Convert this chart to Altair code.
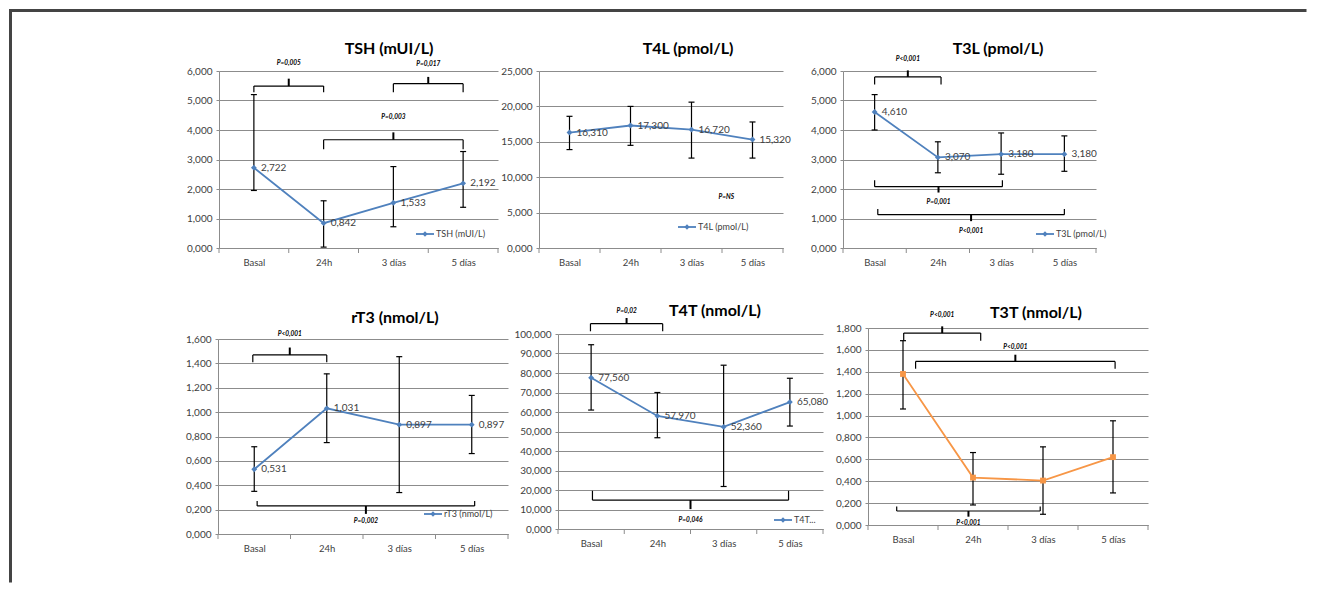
import altair as alt
import pandas as pd

FONT = "Lato"
GRID = "#8c8c8c"
TXT = "#404040"
BLUE = "#4F81BD"
ORANGE = "#F79646"
FRAME = "#444444"

CATS = ["Basal", "24h", "3 días", "5 días"]
POS = [0, 1, 2, 3]
BOUNDS = [-0.5, 0.5, 1.5, 2.5, 3.5]

# ---- series (value, lower and upper error limits) ----
TSH_VAL = [2.722, 0.842, 1.533, 2.192]
TSH_LO = [1.95, 0.03, 0.72, 1.38]
TSH_HI = [5.20, 1.60, 2.76, 3.27]

T4L_VAL = [16.310, 17.300, 16.720, 15.320]
T4L_LO = [13.9, 14.5, 12.7, 12.7]
T4L_HI = [18.6, 20.0, 20.6, 17.8]

T3L_VAL = [4.610, 3.070, 3.180, 3.180]
T3L_LO = [4.0, 2.55, 2.5, 2.6]
T3L_HI = [5.2, 3.6, 3.9, 3.8]

RT3_VAL = [0.531, 1.031, 0.897, 0.897]
RT3_LO = [0.35, 0.75, 0.34, 0.66]
RT3_HI = [0.716, 1.314, 1.455, 1.137]

T4T_VAL = [77.560, 57.970, 52.360, 65.080]
T4T_LO = [61.0, 46.8, 21.8, 52.8]
T4T_HI = [94.5, 70.0, 84.0, 77.3]

T3T_VAL = [1.380, 0.433, 0.406, 0.620]
T3T_LO = [1.06, 0.183, 0.098, 0.293]
T3T_HI = [1.684, 0.662, 0.714, 0.952]

# ---- significance brackets ----
TSH_BR = dict(x1=[0, 2, 1], x2=[1, 3, 3], y=[5.49, 5.57, 3.67], yend=[5.28, 5.28, 3.35],
              ytick=[5.74, 5.80, 3.92], text=["P=0,005", "P=0,017", "P=0,003"], ytext=[6.27, 6.25, 4.43])
T4L_BR = dict(x1=[], x2=[], y=[], yend=[], ytick=[], text=[], ytext=[])
T4L_NOTE = dict(x=[2.57], y=[7.2], text=["P=NS"])
T3L_BR = dict(x1=[0, 0, 0.05], x2=[1.05, 2.02, 3.0], y=[5.8, 2.08, 1.13], yend=[5.54, 2.3, 1.32],
              ytick=[6.02, 1.88, 0.91], text=["P<0,001", "P=0,001", "P<0,001"], ytext=[6.4, 1.55, 0.58])
RT3_BR = dict(x1=[-0.02, 0.04], x2=[1.0, 3.04], y=[1.469, 0.23], yend=[1.41, 0.27],
              ytick=[1.53, 0.165], text=["P<0,001", "P=0,002"], ytext=[1.645, 0.11])
T4T_BR = dict(x1=[-0.01, 0.02], x2=[1.08, 2.98], y=[105.3, 14.8], yend=[101.4, 19.6],
              ytick=[108.2, 10.2], text=["P=0,02", "P=0,046"], ytext=[112, 4.6])
T3T_BR = dict(x1=[0.01, 0.18, -0.09], x2=[1.11, 3.03, 1.96], y=[1.754, 1.495, 0.128],
              yend=[1.684, 1.428, 0.168], ytick=[1.815, 1.556, 0.076],
              text=["P<0,001", "P<0,001", "P<0,001"], ytext=[1.92, 1.623, 0.02])


def fmt(v):
    return f"{v:.3f}".replace(".", ",")


def spacer(w, h):
    return alt.Chart(pd.DataFrame({"s": [0]})).mark_point(opacity=0).encode(
        x=alt.value(0), y=alt.value(0)).properties(width=w, height=h)


def panel(title, t_x, t_y, vals, lo, hi, ymax, ystep, w, h, top, color, shape,
          leg_text, leg_x, leg_y, br, note=None, show_labels=True, frame=None):
    df = pd.DataFrame({"pos": POS, "cat": CATS, "val": vals, "lo": lo, "hi": hi,
                       "lab": [fmt(v) for v in vals]})
    n = int(round(ymax / ystep))
    yvals = [round(i * ystep, 6) for i in range(n + 1)]
    label_expr = "[" + ",".join(f"'{c}'" for c in CATS) + "][datum.value]"
    xaxis = alt.Axis(values=POS, labelExpr=label_expr, grid=False, ticks=False,
                     domainColor=GRID, labelPadding=9, title=None, labelFontSize=9.5,
                     labelOverlap=False)
    yaxis = alt.Axis(values=yvals, labelExpr="replace(format(datum.value, '.3f'), '.', ',')",
                     grid=True, gridColor=GRID, domainColor=GRID, tickColor=GRID,
                     tickSize=3, labelPadding=4, title=None, labelOverlap=False)
    xs = alt.Scale(domain=[-0.5, 3.5], nice=False, zero=False)
    ys = alt.Scale(domain=[0, ymax], nice=False, range=[h, top])

    def X(f):
        return alt.X(f, scale=xs, axis=xaxis)

    def Y(f):
        return alt.Y(f, scale=ys, axis=yaxis)

    base = alt.Chart(df)
    line = base.mark_line(color=color, strokeWidth=1.8).encode(x=X("pos:Q"), y=Y("val:Q"))
    err = base.mark_rule(color="black", strokeWidth=1.2).encode(
        x=X("pos:Q"), y=Y("lo:Q"), y2="hi:Q")
    cap_lo = base.mark_tick(orient="horizontal", color="black", size=6, thickness=1.2,
                            opacity=1).encode(x=X("pos:Q"), y=Y("lo:Q"))
    cap_hi = base.mark_tick(orient="horizontal", color="black", size=6, thickness=1.2,
                            opacity=1).encode(x=X("pos:Q"), y=Y("hi:Q"))
    pts = base.mark_point(shape=shape, filled=True, size=34, color=color, opacity=1).encode(
        x=X("pos:Q"), y=Y("val:Q"))
    layers = [line, err, cap_lo, cap_hi, pts]
    if show_labels:
        layers.append(base.mark_text(align="left", baseline="middle", dx=7, font=FONT,
                                     fontSize=10, color=TXT).encode(
            x=X("pos:Q"), y=Y("val:Q"), text="lab:N"))
    # category boundary tick marks on the x axis
    layers.append(alt.Chart(pd.DataFrame({"b": BOUNDS})).mark_rule(color=GRID).encode(
        x=X("b:Q"), y=alt.value(h), y2=alt.value(h + 5)))

    # brackets
    if br["x1"]:
        segs = []
        ticks = []
        for x1, x2, y, ye, yt in zip(br["x1"], br["x2"], br["y"], br["yend"], br["ytick"]):
            segs.append((x1, y, x2, y))
            segs.append((x1, y, x1, ye))
            segs.append((x2, y, x2, ye))
            m = (x1 + x2) / 2
            ticks.append((m, y, m, yt))
        sdf = pd.DataFrame(segs, columns=["xa", "ya", "xb", "yb"])
        tdf = pd.DataFrame(ticks, columns=["xa", "ya", "xb", "yb"])
        layers.append(alt.Chart(sdf).mark_rule(color="black", strokeWidth=1.2).encode(
            x=X("xa:Q"), y=Y("ya:Q"), x2="xb:Q", y2="yb:Q"))
        layers.append(alt.Chart(tdf).mark_rule(color="black", strokeWidth=2).encode(
            x=X("xa:Q"), y=Y("ya:Q"), x2="xb:Q", y2="yb:Q"))
        ldf = pd.DataFrame({"x": [(a + b) / 2 for a, b in zip(br["x1"], br["x2"])],
                            "y": br["ytext"], "t": br["text"]})
        layers.append(alt.Chart(ldf).mark_text(font=FONT, fontSize=6.5, fontWeight="bold",
                                               fontStyle="italic", color="black",
                                               baseline="middle").encode(
            x=X("x:Q"), y=Y("y:Q"), text="t:N"))
    if note:
        ndf = pd.DataFrame(note)
        layers.append(alt.Chart(ndf).mark_text(font=FONT, fontSize=6.5, fontWeight="bold",
                                               fontStyle="italic", color="black",
                                               baseline="middle").encode(
            x=X("x:Q"), y=Y("y:Q"), text="text:N"))

    # panel title
    layers.append(alt.Chart(pd.DataFrame({"t": [title]})).mark_text(
        font=FONT, fontSize=16, fontWeight="bold", align="center", baseline="alphabetic",
        color="black").encode(x=alt.value(t_x), y=alt.value(t_y), text="t:N"))

    # in-plot legend
    if leg_text:
        leg = pd.DataFrame({"t": [leg_text]})
        layers.append(alt.Chart(leg).mark_rule(color=color, strokeWidth=1.8).encode(
            x=alt.value(leg_x), x2=alt.value(leg_x + 18), y=alt.value(leg_y)))
        layers.append(alt.Chart(leg).mark_point(shape=shape, filled=True, size=28, color=color,
                                                opacity=1).encode(
            x=alt.value(leg_x + 9), y=alt.value(leg_y)))
        layers.append(alt.Chart(leg).mark_text(font=FONT, fontSize=9, color=TXT, align="left",
                                               baseline="middle").encode(
            x=alt.value(leg_x + 20), y=alt.value(leg_y), text="t:N"))

    # outer picture frame (decoration)
    if frame:
        fdf = pd.DataFrame({"f": [0]})
        fx, fy0, fy1, fxr = frame
        layers.append(alt.Chart(fdf).mark_rule(color=FRAME, strokeWidth=3,
                                               strokeCap="square").encode(
            x=alt.value(fx), x2=alt.value(fxr), y=alt.value(fy0)))
        layers.append(alt.Chart(fdf).mark_rule(color=FRAME, strokeWidth=3,
                                               strokeCap="square").encode(
            x=alt.value(fx), y=alt.value(fy0), y2=alt.value(fy1)))

    return alt.layer(*layers).properties(width=w, height=h)


# row 1 plot tops at page y=70; row 2 plot groups at page y=327
tsh = panel("TSH (mUI/L)", 170, -17, TSH_VAL, TSH_LO, TSH_HI, 6, 1, 279, 177, 0, BLUE, "diamond",
            "TSH (mUI/L)", 197, 163, TSH_BR, frame=(-208.5, -60.5, 510, 1086))
t4l = panel("T4L (pmol/L)", 149, -17, T4L_VAL, T4L_LO, T4L_HI, 25, 5, 244, 177, 0, BLUE, "diamond",
            "T4L (pmol/L)", 139, 156, T4L_BR, note=T4L_NOTE)
t3l = panel("T3L (pmol/L)", 155, -17, T3L_VAL, T3L_LO, T3L_HI, 6, 1, 253, 177, 0, BLUE, "diamond",
            "T3L (pmol/L)", 193, 163, T3L_BR)
rt3 = panel("rT3  (nmol/L)", 177, -5, RT3_VAL, RT3_LO, RT3_HI, 1.6, 0.2, 290, 206, 11, BLUE, "diamond",
            "rT3  (nmol/L)", 206, 186, RT3_BR)
t4t = panel("T4T (nmol/L)", 157, -12, T4T_VAL, T4T_LO, T4T_HI, 100, 10, 265, 201, 6, BLUE, "diamond",
            "T4T...", 216, 192, T4T_BR)
t3t = panel("T3T (nmol/L)", 168, -10, T3T_VAL, T3T_LO, T3T_HI, 1.8, 0.2, 280, 197, 0, ORANGE, "square",
            "", 0, 0, T3T_BR, show_labels=False)

row1 = alt.hconcat(spacer(1, 10), tsh, spacer(41, 10), t4l, spacer(60, 10), t3l,
                   spacing=0, bounds="flush")
row2 = alt.hconcat(rt3, spacer(50, 10), t4t, spacer(45, 10), t3t, spacing=0, bounds="flush")

# with flush bounds the nested rows count as zero-size, so spacing = row-2 offset
chart = alt.vconcat(row1, row2, spacing=257, bounds="flush").properties(
    padding=0, background="white"
).configure_view(stroke=None).configure_axis(
    labelFont=FONT, labelFontSize=10, labelColor=TXT
)

chart.save("out.html", embed_options={"renderer": "svg", "actions": False})
